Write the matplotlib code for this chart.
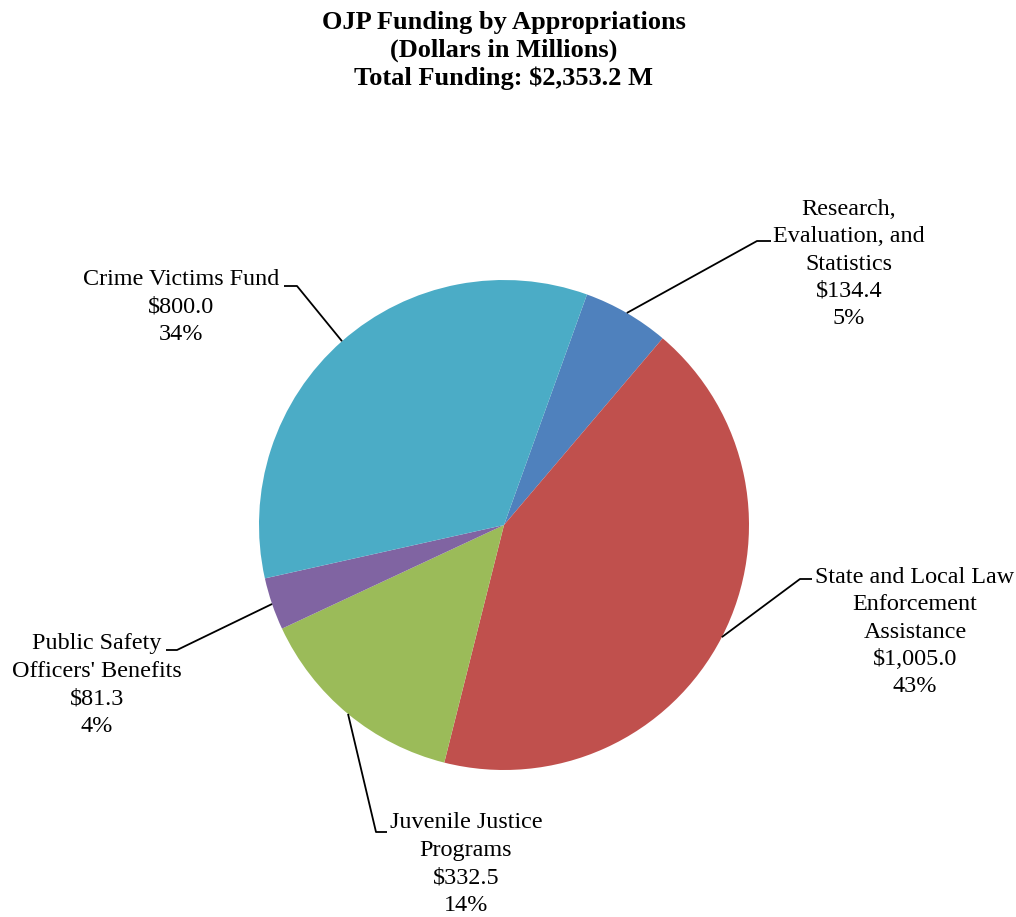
import numpy as np
import matplotlib.pyplot as plt

plt.rcParams['font.family'] = ['Liberation Serif', 'DejaVu Serif']

# data (dollars in millions), clockwise from the top
names = ['Research,\nEvaluation, and\nStatistics',
         'State and Local Law\nEnforcement\nAssistance',
         'Juvenile Justice\nPrograms',
         "Public Safety\nOfficers' Benefits",
         'Crime Victims Fund']
amounts = [134.4, 1005.0, 332.5, 81.3, 800.0]
pct_labels = ['5%', '43%', '14%', '4%', '34%']
colors = ['#4F81BD', '#C0504D', '#9BBB59', '#8064A2', '#4BACC6']
total = 2353.2

W, H = 1016, 917
fig = plt.figure(figsize=(W / 100, H / 100), dpi=100)
ax = fig.add_axes([0, 0, 1, 1])

cx, cy, R = 504, H - 525, 245
start = 70.2
wedges, _ = ax.pie(amounts, colors=colors, startangle=start, counterclock=False,
                   center=(cx, cy), radius=R, wedgeprops=dict(linewidth=0))

# label layout: text centre, elbow point, end of horizontal stub (pixels, y down)
text_pos = [(849, 264), (915, 632), (466, 864), (97, 685), (181, 307)]
elbows = [(757, 241), (800, 579), (376, 832), (177, 650), (297, 286)]
stubs = [(771, 241), (812, 579), (387, 832), (166, 650), (284, 286)]

for w, nm, amt, pl, tp, eb, sb in zip(wedges, names, amounts, pct_labels,
                                      text_pos, elbows, stubs):
    mid = np.deg2rad((w.theta1 + w.theta2) / 2)
    px, py = cx + R * np.cos(mid), cy + R * np.sin(mid)
    ax.plot([px, eb[0], sb[0]], [py, H - eb[1], H - sb[1]], color='black', lw=1.3,
            solid_capstyle='butt')
    ax.text(tp[0], H - tp[1], f'{nm}\n${amt:,.1f}\n{pl}', ha='center', va='center',
            multialignment='center', fontsize=17.4, linespacing=1.4)

ax.set_xlim(0, W)
ax.set_ylim(0, H)
ax.set_aspect('auto')
ax.axis('off')

title_lines = ['OJP Funding by Appropriations', '(Dollars in Millions)',
               f'Total Funding: ${total:,.1f} M']
for i, t in enumerate(title_lines):
    ax.text(504, H - (22 + 28 * i), t, ha='center', va='center', fontsize=19,
            fontweight='bold')

fig.savefig('out.png', dpi=100)
